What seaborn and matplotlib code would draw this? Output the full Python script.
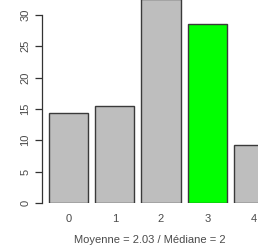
import numpy as np
import pandas as pd
import matplotlib
matplotlib.use("Agg")
import matplotlib.pyplot as plt
import seaborn as sns

# values
categories = ['0', '1', '2', '3', '4']
values = [14.4, 15.4, 32.5, 28.5, 9.2]
colours = ['#BEBEBE', '#BEBEBE', '#BEBEBE', '#00FF00', '#BEBEBE']
yticks = [0, 5, 10, 15, 20, 25, 30]
xlabel = 'Moyenne = 2.03 / Médiane = 2'

df = pd.DataFrame({'cat': categories, 'val': values})

sns.set_style("white")
plt.rcParams['font.family'] = ['Liberation Sans', 'DejaVu Sans']

fig = plt.figure(figsize=(2.58, 2.5), dpi=100)
# axes left edge = y axis line, bottom = zero line, top/right reach the figure edge
ax = fig.add_axes([41.7 / 258, 47 / 250, 1 - 41.7 / 258, 203 / 250])

sns.barplot(data=df, x='cat', y='val', hue='cat', palette=dict(zip(categories, colours)),
            legend=False, width=0.85, edgecolor='#3a3a3a', linewidth=1.0,
            saturation=1, ax=ax)

ax.set_xlim(-0.579, 4.097)
ax.set_ylim(0, 203 / 6.27)

for s in ['top', 'right', 'bottom']:
    ax.spines[s].set_visible(False)
ax.spines['left'].set_bounds(0, 30)
ax.spines['left'].set_color('#333333')
ax.spines['left'].set_linewidth(0.9)

ax.set_yticks(yticks)
ax.set_yticklabels([str(t) for t in yticks], rotation=90, va='center')
ax.tick_params(axis='y', length=5, width=0.9, color='#333333', pad=3,
               labelsize=8, labelcolor='#4a4a4a', left=True)
ax.tick_params(axis='x', length=0, pad=8, labelsize=8, labelcolor='#4a4a4a')

ax.set_ylabel('')
ax.set_xlabel(xlabel, fontsize=8, color='#4a4a4a', labelpad=8)

fig.savefig('out.png', dpi=100)
